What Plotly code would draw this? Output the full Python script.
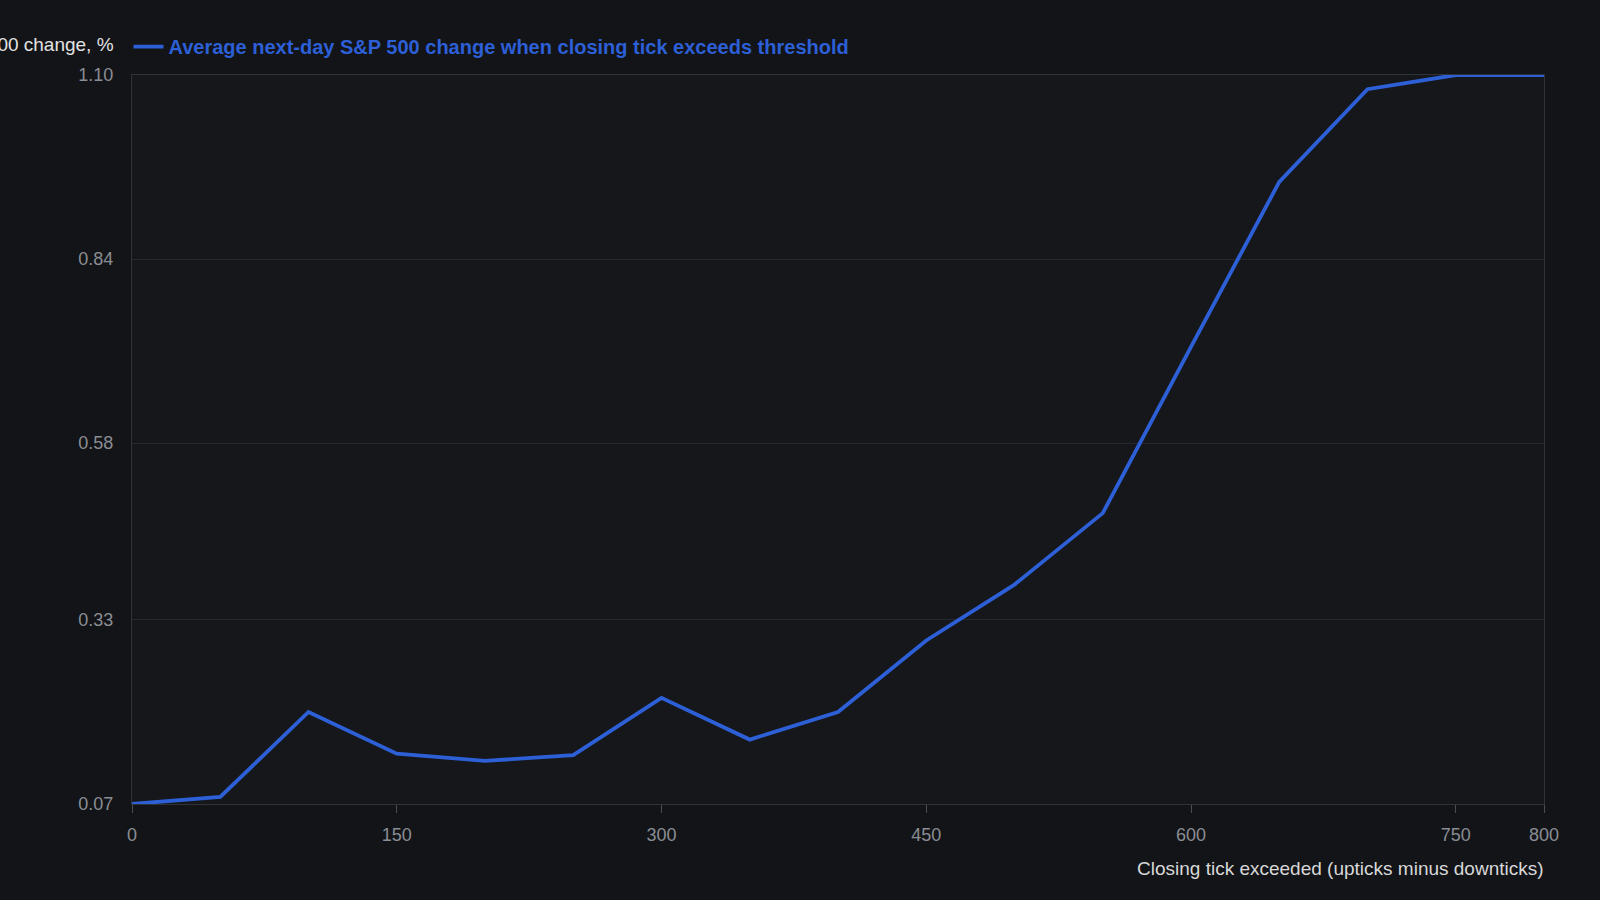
import plotly.graph_objects as go

# closing tick thresholds and the average next-day S&P 500 change (%)
thresholds = [0, 50, 100, 150, 200, 250, 300, 350, 400, 450, 500, 550, 600, 650, 700, 750, 800]
avg_change = [0.070, 0.080, 0.200, 0.141, 0.131, 0.139, 0.220, 0.161, 0.200,
              0.301, 0.380, 0.481, 0.716, 0.949, 1.080, 1.100, 1.100]

x_ticks = [0, 150, 300, 450, 600, 750, 800]
y_ticks = [0.07, 0.33, 0.58, 0.84, 1.10]
y_tick_text = ["0.07", "0.33", "0.58", "0.84", "1.10"]

series_name = "Average next-day S&P 500 change when closing tick exceeds threshold"
y_title = "Average next-day S&P 500 change, %"
x_title = "Closing tick exceeded (upticks minus downticks)"

line_blue = "#2d5fd6"
grid_col = "#25282d"
frame_col = "#2f3237"
tick_col = "#8a8d93"

fig = go.Figure()
fig.add_trace(go.Scatter(
    x=thresholds, y=avg_change, mode="lines", name=series_name,
    line=dict(color=line_blue, width=3.8),
))

fig.update_layout(
    width=1600, height=900,
    paper_bgcolor="#121418", plot_bgcolor="#15171b",
    margin=dict(l=132, r=56, t=75, b=96),
    font=dict(family="Liberation Sans, Arial, sans-serif", color=tick_col),
    showlegend=True,
    legend=dict(
        orientation="h", x=-0.0025, xanchor="left", y=1.039, yanchor="middle",
        font=dict(size=20, color=line_blue, family="Liberation Sans, Arial, sans-serif", weight="bold"),
        bgcolor="rgba(0,0,0,0)", itemwidth=30,
    ),
)

fig.update_xaxes(
    range=[0, 800], tickvals=x_ticks, showgrid=False, zeroline=False,
    showline=True, linecolor=frame_col, linewidth=1, mirror=True,
    ticks="outside", ticklen=8, tickcolor="#4a4d52", ticklabelstandoff=6,
    tickfont=dict(size=18, color=tick_col),
)
fig.update_yaxes(
    range=[0.07, 1.10], tickvals=y_ticks, ticktext=y_tick_text,
    showgrid=True, gridcolor=grid_col, gridwidth=1, zeroline=False,
    showline=True, linecolor=frame_col, linewidth=1, mirror=True,
    ticks="", ticklabelstandoff=14,
    tickfont=dict(size=18, color=tick_col),
)

# y-axis title sits above the axis, partly running off the left edge
fig.add_annotation(
    text=y_title, xref="paper", yref="paper", x=0, y=1,
    xanchor="right", yanchor="middle", xshift=-16, yshift=31,
    showarrow=False, font=dict(size=19, color="#e2e2e2"),
)
fig.add_annotation(
    text=x_title, xref="paper", yref="paper", x=1, y=0,
    xanchor="right", yanchor="middle", xshift=2, yshift=-64,
    showarrow=False, font=dict(size=19, color="#d8d8d8"),
)

fig.write_html("out.html", config={"displayModeBar": False},
               post_script="document.body.style.margin='0';")
